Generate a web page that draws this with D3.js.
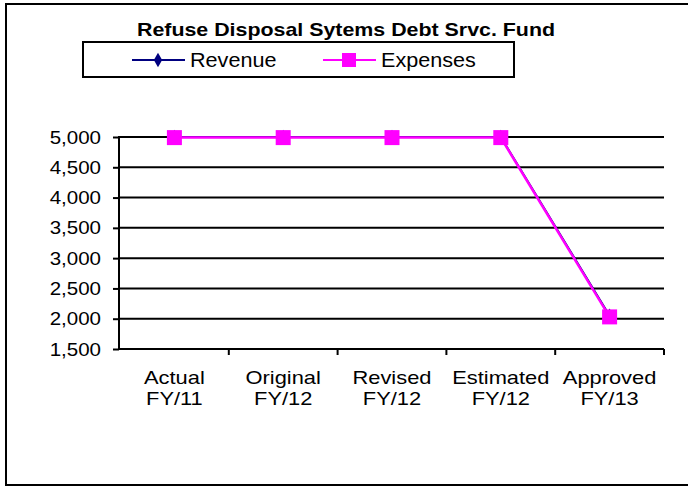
<!DOCTYPE html>
<html>
<head>
<meta charset="utf-8">
<title>Refuse Disposal Sytems Debt Srvc. Fund</title>
<script src="https://d3js.org/d3.v7.min.js"></script>
<style>
  body { margin: 0; background: #fff; }
  text { font-family: "Liberation Sans", Arial, sans-serif; fill: #000; }
</style>
</head>
<body>
<script>
// chart data
var categories = [["Actual", "FY/11"], ["Original", "FY/12"], ["Revised", "FY/12"], ["Estimated", "FY/12"], ["Approved", "FY/13"]];
var revenue = [5000, 5000, 5000, 5000, 2050];
var expenses = [4990, 4990, 4990, 4990, 2030];
var yTicks = [1500, 2000, 2500, 3000, 3500, 4000, 4500, 5000];
var seriesNames = ["Revenue", "Expenses"];

var W = 688, H = 487;
var svg = d3.select("body").append("svg")
    .attr("width", W).attr("height", H);

// stretch text horizontally a bit, excel renders wider
function widen(sel, k) {
  sel.each(function() {
    var len = this.getComputedTextLength();
    d3.select(this).attr("textLength", len * k).attr("lengthAdjust", "spacingAndGlyphs");
  });
}

// outer frame
svg.append("rect")
    .attr("x", 6).attr("y", 4)
    .attr("width", 700).attr("height", 481)
    .attr("fill", "#fff").attr("stroke", "#000").attr("stroke-width", 2);

// title
svg.append("text")
    .attr("x", 346).attr("y", 36)
    .attr("text-anchor", "middle")
    .attr("font-weight", "bold").attr("font-size", 19)
    .attr("textLength", 418).attr("lengthAdjust", "spacingAndGlyphs")
    .text("Refuse Disposal Sytems Debt Srvc. Fund");

// scales
var x = d3.scaleBand().domain(d3.range(categories.length)).range([120, 664]);
var y = d3.scaleLinear().domain([1500, 5000]).range([349, 137]);

// gridlines
svg.append("g").selectAll("line")
    .data(yTicks.slice(1))
    .join("line")
    .attr("x1", 118).attr("x2", 664)
    .attr("y1", function(d) { return y(d); })
    .attr("y2", function(d) { return y(d); })
    .attr("stroke", "#000").attr("stroke-width", 2);

// y axis
var yAxis = svg.append("g")
    .attr("transform", "translate(119,0)")
    .call(d3.axisLeft(y).tickValues(yTicks).tickSize(6).tickPadding(12)
        .tickFormat(d3.format(",")));
yAxis.select(".domain").attr("stroke-width", 2).attr("d", "M0," + y(1500) + "V" + y(5000));
yAxis.selectAll(".tick line").attr("stroke-width", 2);
yAxis.selectAll("text").attr("font-size", 19).attr("font-family", "Liberation Sans, Arial, sans-serif");
widen(yAxis.selectAll("text"), 1.08);

// x axis
var xAxisG = svg.append("g").attr("transform", "translate(0," + y(1500) + ")");
xAxisG.append("line")
    .attr("x1", 118).attr("x2", 664)
    .attr("stroke", "#000").attr("stroke-width", 2);
xAxisG.selectAll(".xt")
    .data(d3.range(categories.length))
    .join("line")
    .attr("x1", function(d) { return x(d) + x.bandwidth(); })
    .attr("x2", function(d) { return x(d) + x.bandwidth(); })
    .attr("y1", 0).attr("y2", 6)
    .attr("stroke", "#000").attr("stroke-width", 2);
xAxisG.selectAll(".xl")
    .data(categories)
    .join("g")
    .each(function(d, i) {
      var g = d3.select(this);
      var cxv = x(i) + x.bandwidth() / 2;
      [d[0], d[1]].forEach(function(s, j) {
        g.append("text")
          .attr("x", cxv).attr("y", 35 + j * 21)
          .attr("text-anchor", "middle")
          .attr("font-size", 19)
          .text(s);
      });
    });
widen(xAxisG.selectAll("text"), 1.15);

var cx = function(d, i) { return x(i) + x.bandwidth() / 2; };
var line = d3.line().x(cx).y(function(d) { return y(d); });

// revenue
svg.append("path").datum(revenue)
    .attr("d", line).attr("fill", "none")
    .attr("stroke", "#000080").attr("stroke-width", 2);
svg.append("g").selectAll("path")
    .data(revenue).join("path")
    .attr("d", d3.symbol(d3.symbolDiamond, 60))
    .attr("transform", function(d, i) { return "translate(" + cx(d, i) + "," + y(d) + ")"; })
    .attr("fill", "#000080");

// expenses
svg.append("path").datum(expenses)
    .attr("d", line).attr("fill", "none")
    .attr("stroke", "#FF00FF").attr("stroke-width", 2.5);
svg.append("g").selectAll("rect")
    .data(expenses).join("rect")
    .attr("x", function(d, i) { return cx(d, i) - 7.5; })
    .attr("y", function(d) { return y(d) - 7.5; })
    .attr("width", 15).attr("height", 15)
    .attr("fill", "#FF00FF");

// legend
var lg = svg.append("g");
lg.append("rect")
    .attr("x", 83).attr("y", 42).attr("width", 431).attr("height", 35)
    .attr("fill", "#fff").attr("stroke", "#000").attr("stroke-width", 2);
var lx = [132, 323];
lg.selectAll(".ll").data(seriesNames).join("line")
    .attr("x1", function(d, i) { return lx[i]; })
    .attr("x2", function(d, i) { return lx[i] + 53; })
    .attr("y1", 60).attr("y2", 60)
    .attr("stroke", function(d, i) { return i ? "#FF00FF" : "#000080"; })
    .attr("stroke-width", 2);
lg.append("path")
    .attr("d", d3.symbol(d3.symbolDiamond, 60))
    .attr("transform", "translate(" + (lx[0] + 26) + ",60)")
    .attr("fill", "#000080");
lg.append("rect")
    .attr("x", lx[1] + 19).attr("y", 53).attr("width", 14).attr("height", 14)
    .attr("fill", "#FF00FF");
var lt = lg.selectAll(".lt").data(seriesNames).join("text")
    .attr("x", function(d, i) { return lx[i] + 58; })
    .attr("y", 67)
    .attr("font-size", 20)
    .text(function(d) { return d; });
widen(lt, 1.08);
</script>
</body>
</html>
